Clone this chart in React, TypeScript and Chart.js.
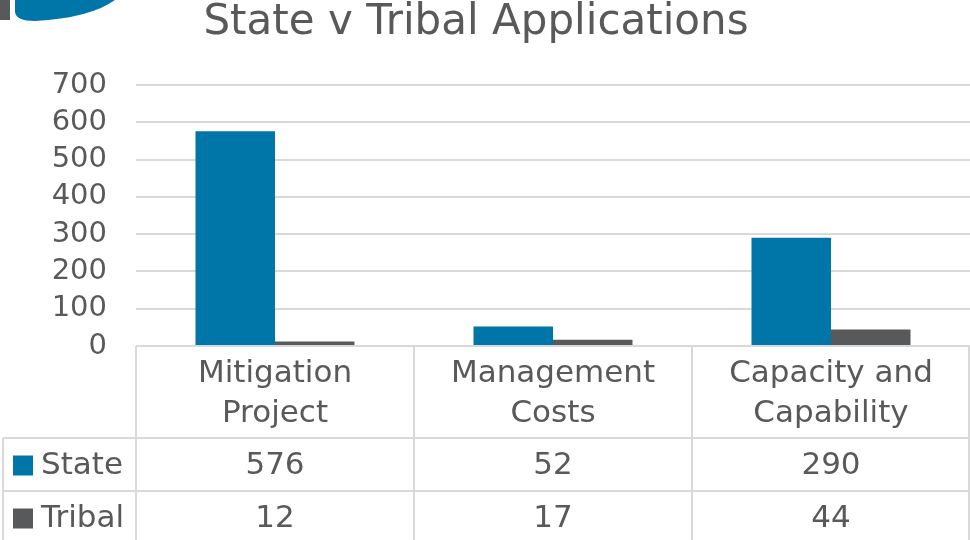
import React, { useEffect, useRef } from "react";
import { Chart, registerables } from "chart.js";

Chart.register(...registerables);

const categories: string[][] = [["Mitigation", "Project"], ["Management", "Costs"], ["Capacity and", "Capability"]];
const stateValues = [576, 52, 290];
const tribalValues = [12, 17, 44];
const seriesNames = ["State", "Tribal"];
const seriesColors = ["#0076A8", "#58595B"];
const titleText = "State v Tribal Applications";

const FONT = '"DejaVu Sans", sans-serif';
const TEXT = "#595959";
const GRID = "#D9D9D9";

const tablePlugin = {
  id: "tablePlugin",
  afterDraw(chart: any) {
    const ctx = chart.ctx as CanvasRenderingContext2D;
    const area = chart.chartArea;
    const xs = chart.scales.x;
    const n = categories.length;
    const catW = (area.right - area.left) / n;
    const top = area.bottom;
    const headerBottom = top + 92;
    const row1Bottom = headerBottom + 53;
    const bottom = chart.height + 2;
    ctx.save();
    // logo decoration
    ctx.fillStyle = "#58595B";
    ctx.fillRect(0, 0, 10, 20);
    ctx.fillStyle = "#0076A8";
    ctx.beginPath();
    ctx.moveTo(15, 0);
    ctx.lineTo(15, 12);
    ctx.quadraticCurveTo(16, 21, 35, 21);
    ctx.quadraticCurveTo(90, 18, 115, 0);
    ctx.closePath();
    ctx.fill();

    // title
    ctx.fillStyle = TEXT;
    ctx.font = `42px ${FONT}`;
    ctx.textAlign = "center";
    ctx.textBaseline = "middle";
    ctx.fillText(titleText, 476, 23);

    // table lines
    ctx.strokeStyle = GRID;
    ctx.lineWidth = 2;
    ctx.beginPath();
    ctx.moveTo(area.left, top);
    ctx.lineTo(area.right, top);
    ctx.moveTo(3, headerBottom);
    ctx.lineTo(area.right, headerBottom);
    ctx.moveTo(3, row1Bottom);
    ctx.lineTo(area.right, row1Bottom);
    ctx.moveTo(3, headerBottom);
    ctx.lineTo(3, bottom);
    for (let i = 0; i <= n; i++) {
      const x = Math.min(area.left + i * catW, chart.width - 1);
      ctx.moveTo(x, top);
      ctx.lineTo(x, bottom);
    }
    ctx.stroke();

    ctx.font = `31px ${FONT}`;
    ctx.fillStyle = TEXT;
    ctx.textAlign = "center";
    ctx.textBaseline = "middle";
    const rows = [stateValues, tribalValues];
    categories.forEach((lines, i) => {
      const cx = xs.getPixelForValue(i);
      ctx.fillText(lines[0], cx, top + 28);
      ctx.fillText(lines[1], cx, top + 68);
      rows.forEach((vals, r) => {
        const cy = r === 0 ? (headerBottom + row1Bottom) / 2 + 1 : (row1Bottom + chart.height) / 2 + 3;
        ctx.fillText(String(vals[i]), cx, cy);
      });
    });
    // legend keys
    ctx.textAlign = "left";
    seriesNames.forEach((name, r) => {
      const cy = r === 0 ? (headerBottom + row1Bottom) / 2 + 1 : (row1Bottom + chart.height) / 2 + 3;
      ctx.fillStyle = seriesColors[r];
      ctx.fillRect(13, cy - 10, 20, 20);
      ctx.fillStyle = TEXT;
      ctx.fillText(name, 41, cy);
    });
    ctx.restore();
  },
};

export default function App() {
  const ref = useRef<HTMLCanvasElement>(null);
  useEffect(() => {
    const chart = new Chart(ref.current!, {
      type: "bar",
      data: {
        labels: categories.map((c) => c.join(" ")),
        datasets: [
          { label: seriesNames[0], data: stateValues, backgroundColor: seriesColors[0], categoryPercentage: 0.572, barPercentage: 1 },
          { label: seriesNames[1], data: tribalValues, backgroundColor: seriesColors[1], categoryPercentage: 0.572, barPercentage: 1 },
        ],
      },
      options: {
        responsive: false,
        animation: false,
        layout: { padding: { top: 85, bottom: 194, left: 0, right: 0 } },
        plugins: { legend: { display: false }, title: { display: false }, tooltip: { enabled: false } },
        scales: {
          x: { display: false },
          y: {
            min: 0,
            max: 700,
            ticks: { stepSize: 100, autoSkip: false, padding: 29, color: TEXT, font: { size: 29, family: FONT } },
            grid: { color: GRID, lineWidth: 2, drawTicks: false },
            border: { display: false },
            afterFit: (s: any) => {
              s.width = 136;
            },
          },
        },
      },
      plugins: [tablePlugin],
    });
    return () => chart.destroy();
  }, []);
  return (
    <div style={{ position: "absolute", left: 0, top: 0, width: 970, height: 540, background: "#fff" }}>
      <canvas ref={ref} width={970} height={540} />
    </div>
  );
}
